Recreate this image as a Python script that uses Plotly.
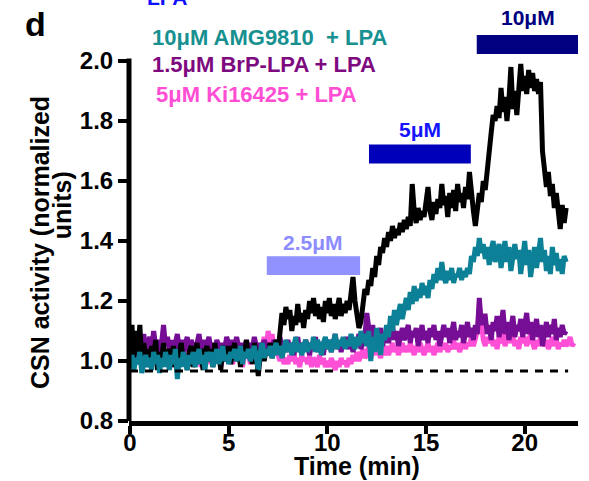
import plotly.graph_objects as go

# ---------------- data ----------------
time_step = 0.1  # min, sampling interval of the traces

lpa_ctrl = [
    1.05, 1.12, 1.00, 1.10, 1.03, 1.12, 0.99, 1.06, 1.01, 1.04,
    0.98, 1.05, 1.01, 1.07, 0.97, 1.03, 1.00, 1.06, 0.99, 1.02,
    1.04, 0.98, 1.05, 1.00, 0.96, 1.03, 1.06, 0.99, 1.02, 0.97,
    1.03, 1.05, 0.98, 1.02, 1.06, 0.99, 1.04, 0.97, 1.03, 1.05,
    1.00, 1.04, 0.98, 1.06, 1.01, 1.03, 0.97, 1.05, 1.02, 1.00,
    1.05, 0.99, 1.03, 1.06, 1.00, 1.04, 0.98, 1.05, 1.02, 1.07,
    1.01, 1.04, 0.99, 1.06, 1.03, 0.95, 1.02, 1.05, 1.00, 1.04,
    1.02, 1.06, 1.01, 1.04, 1.07, 1.03, 1.10, 1.16, 1.12, 1.18,
    1.14, 1.17, 1.10, 1.15, 1.12, 1.19, 1.13, 1.16, 1.11, 1.17,
    1.14, 1.20, 1.16, 1.21, 1.15, 1.19, 1.14, 1.18, 1.13, 1.20,
    1.16, 1.21, 1.15, 1.19, 1.14, 1.17, 1.21, 1.15, 1.19, 1.16,
    1.20, 1.17, 1.22, 1.28, 1.20, 1.14, 1.11, 1.13, 1.18, 1.24,
    1.22, 1.27, 1.25, 1.31, 1.28, 1.35, 1.32, 1.38, 1.36, 1.41,
    1.38, 1.43, 1.40, 1.45, 1.41, 1.44, 1.42, 1.46, 1.43, 1.47,
    1.44, 1.48, 1.45, 1.59, 1.50, 1.46, 1.51, 1.47, 1.50, 1.48,
    1.53, 1.58, 1.50, 1.47, 1.53, 1.49, 1.54, 1.51, 1.59, 1.52,
    1.55, 1.48, 1.56, 1.51, 1.57, 1.50, 1.59, 1.53, 1.56, 1.51,
    1.58, 1.54, 1.63, 1.55, 1.50, 1.45, 1.51, 1.56, 1.53, 1.60,
    1.57, 1.65, 1.70, 1.76, 1.82, 1.80, 1.85, 1.81, 1.91, 1.83,
    1.88, 1.80, 1.87, 1.98, 1.84, 1.90, 1.82, 1.89, 1.99, 1.90,
    1.95, 1.89, 1.97, 1.91, 1.96, 1.90, 1.94, 1.89, 1.93, 1.70,
    1.62, 1.58, 1.63, 1.55, 1.59, 1.51, 1.56, 1.49, 1.44, 1.52,
    1.46, 1.51,
]

amg9810 = [
    0.98, 1.02, 0.97, 1.01, 0.99, 1.03, 0.96, 1.00, 1.02, 0.98,
    1.01, 0.97, 1.03, 0.99, 1.02, 0.96, 1.01, 0.98, 1.03, 1.00,
    0.97, 1.02, 0.99, 1.04, 0.94, 1.01, 0.98, 1.03, 1.00, 0.97,
    1.02, 0.99, 1.03, 0.98, 1.01, 1.04, 0.99, 1.02, 0.97, 1.03,
    1.00, 1.03, 0.98, 1.02, 1.04, 0.99, 1.01, 1.05, 1.00, 1.02,
    0.99, 1.03, 1.01, 1.04, 1.00, 1.02, 1.05, 0.99, 1.03, 1.01,
    1.04, 1.00, 1.02, 1.05, 1.01, 0.97, 1.03, 1.06, 1.01, 1.04,
    1.02, 1.05, 1.01, 1.04, 1.06, 1.02, 1.05, 1.01, 1.04, 1.07,
    1.03, 1.06, 1.02, 1.05, 1.08, 1.03, 1.06, 1.02, 1.05, 1.07,
    1.03, 1.06, 1.04, 1.08, 1.03, 1.07, 1.05, 1.02, 1.06, 1.08,
    1.04, 1.07, 1.03, 1.06, 1.09, 1.04, 1.07, 1.05, 1.08, 1.04,
    1.07, 1.05, 1.09, 1.06, 1.04, 1.08, 1.05, 1.10, 1.06, 1.09,
    1.05, 1.10, 1.00, 1.08, 1.03, 1.11, 1.06, 1.02, 1.09, 1.07,
    1.12, 1.08, 1.15, 1.10, 1.17, 1.12, 1.16, 1.19, 1.14, 1.18,
    1.21, 1.17, 1.23, 1.19, 1.25, 1.20, 1.24, 1.21, 1.26, 1.22,
    1.25, 1.21, 1.27, 1.24, 1.29, 1.26, 1.31, 1.27, 1.33, 1.28,
    1.26, 1.30, 1.27, 1.31, 1.26, 1.29, 1.28, 1.31, 1.27, 1.30,
    1.28, 1.31, 1.29, 1.35, 1.33, 1.38, 1.35, 1.41, 1.36, 1.39,
    1.34, 1.38, 1.32, 1.37, 1.40, 1.33, 1.36, 1.39, 1.31, 1.37,
    1.40, 1.33, 1.38, 1.30, 1.36, 1.39, 1.34, 1.37, 1.29, 1.36,
    1.40, 1.32, 1.37, 1.28, 1.35, 1.38, 1.31, 1.36, 1.41, 1.33,
    1.37, 1.30, 1.35, 1.29, 1.38, 1.32, 1.36, 1.30, 1.34, 1.29,
    1.35, 1.33,
]

brp_lpa = [
    1.06, 1.03, 1.08, 1.05, 1.02, 1.07, 1.04, 1.09, 1.03, 1.06,
    1.08, 1.04, 1.10, 1.05, 1.07, 1.03, 1.06, 1.12, 1.05, 1.08,
    1.04, 1.07, 1.02, 1.06, 1.09, 1.04, 1.07, 1.03, 1.06, 1.08,
    1.03, 1.07, 1.05, 1.02, 1.06, 1.09, 1.04, 1.07, 1.03, 1.05,
    1.08, 1.04, 1.06, 1.03, 1.07, 1.05, 1.02, 1.06, 1.04, 1.08,
    1.05, 1.03, 1.07, 1.04, 1.08, 1.05, 1.02, 1.06, 1.04, 1.07,
    1.03, 1.06, 1.04, 1.08, 1.05, 1.02, 1.06, 1.04, 1.07, 1.05,
    1.02, 1.06, 1.04, 1.07, 1.03, 1.05, 1.08, 1.04, 1.06, 1.03,
    1.07, 1.04, 1.06, 1.02, 1.05, 1.08, 1.03, 1.06, 1.04, 1.07,
    1.05, 1.02, 1.06, 1.04, 1.08, 1.03, 1.06, 1.05, 1.02, 1.07,
    1.04, 1.07, 1.03, 1.06, 1.09, 1.04, 1.06, 1.03, 1.07, 1.05,
    1.08, 1.04, 1.06, 1.03, 1.07, 1.05, 1.09, 1.04, 1.06, 1.08,
    1.16, 1.10, 1.06, 1.12, 1.05, 1.09, 1.07, 1.11, 1.05, 1.08,
    1.10, 1.06, 1.09, 1.12, 1.07, 1.10, 1.05, 1.09, 1.11, 1.07,
    1.09, 1.12, 1.06, 1.10, 1.08, 1.11, 1.05, 1.09, 1.12, 1.07,
    1.10, 1.06, 1.11, 1.08, 1.12, 1.07, 1.10, 1.05, 1.09, 1.12,
    1.08, 1.11, 1.06, 1.10, 1.13, 1.07, 1.10, 1.08, 1.12, 1.06,
    1.10, 1.13, 1.08, 1.11, 1.07, 1.12, 1.09, 1.21, 1.12, 1.15,
    1.15, 1.09, 1.12, 1.07, 1.13, 1.10, 1.15, 1.08, 1.12, 1.17,
    1.09, 1.13, 1.07, 1.11, 1.15, 1.08, 1.12, 1.10, 1.14, 1.08,
    1.12, 1.16, 1.09, 1.13, 1.07, 1.11, 1.14, 1.08, 1.12, 1.05,
    1.10, 1.13, 1.08, 1.12, 1.09, 1.14, 1.07, 1.11, 1.08, 1.12,
    1.09, 1.10,
]

ki16425 = [
    1.01, 1.04, 0.99, 1.03, 1.00, 1.05, 0.98, 1.02, 1.04, 1.00,
    1.03, 0.99, 1.04, 1.01, 0.98, 1.03, 1.00, 1.04, 0.99, 1.02,
    1.00, 1.03, 0.98, 1.02, 1.05, 0.99, 1.03, 1.00, 1.04, 0.98,
    1.02, 1.04, 0.99, 1.03, 1.01, 1.05, 0.98, 1.02, 1.04, 1.00,
    1.03, 0.99, 1.02, 1.05, 1.00, 1.03, 0.98, 1.02, 1.04, 1.01,
    1.00, 1.03, 0.99, 1.02, 1.04, 1.00, 1.03, 0.98, 1.02, 1.01,
    1.03, 0.99, 1.02, 1.04, 1.00, 1.03, 1.01, 1.05, 1.08, 1.04,
    1.10, 1.06, 1.09, 1.04, 1.07, 1.02, 1.00, 1.03, 0.99, 1.01,
    0.99, 1.02, 1.00, 1.03, 0.99, 1.01, 0.98, 1.02, 1.00, 1.01,
    0.99, 1.02, 0.98, 1.01, 1.00, 0.98, 1.02, 0.99, 1.01, 0.98,
    1.00, 0.98, 1.01, 0.99, 0.97, 1.00, 0.98, 1.01, 0.99, 1.00,
    0.98, 1.01, 0.99, 1.02, 1.00, 1.03, 1.00, 1.02, 1.04, 1.01,
    1.02, 1.05, 1.01, 1.04, 1.02, 1.05, 1.03, 1.01, 1.04, 1.02,
    1.05, 1.02, 1.04, 1.06, 1.03, 1.05, 1.02, 1.04, 1.06, 1.03,
    1.05, 1.03, 1.06, 1.04, 1.02, 1.05, 1.03, 1.06, 1.04, 1.02,
    1.04, 1.06, 1.03, 1.05, 1.02, 1.04, 1.06, 1.03, 1.05, 1.04,
    1.06, 1.03, 1.05, 1.04, 1.07, 1.04, 1.06, 1.03, 1.05, 1.07,
    1.04, 1.06, 1.05, 1.08, 1.05, 1.07, 1.10, 1.19, 1.11, 1.07,
    1.05, 1.08, 1.06, 1.09, 1.05, 1.07, 1.04, 1.08, 1.06, 1.09,
    1.05, 1.07, 1.09, 1.06, 1.08, 1.05, 1.07, 1.04, 1.08, 1.06,
    1.08, 1.05, 1.07, 1.09, 1.06, 1.04, 1.07, 1.05, 1.08, 1.06,
    1.05, 1.07, 1.04, 1.06, 1.08, 1.05, 1.07, 1.04, 1.06, 1.05,
    1.07, 1.05, 1.06, 1.08, 1.05, 1.06,
]

series_names = ["5μM Ki16425 + LPA", "1.5μM BrP-LPA + LPA", "LPA", "10μM AMG9810  + LPA"]
series_values = [ki16425, brp_lpa, lpa_ctrl, amg9810]
series_colors = ["#ff4fd6", "#760d95", "#000000", "#0b8096"]

legend_labels = ["10μM AMG9810  + LPA", "1.5μM BrP-LPA + LPA", "5μM Ki16425 + LPA"]
legend_colors = ["#179090", "#7e0a80", "#ff4ed4"]

dose_labels = ["2.5μM", "5μM", "10μM"]
dose_start = [6.93, 12.11, 17.57]
dose_end = [11.66, 17.27, 22.72]
dose_colors = ["#9191ff", "#0000bb", "#000080"]
dose_text_colors = ["#8c8cff", "#1414ff", "#000080"]

baseline_level = 0.967
x_ticks = [0, 5, 10, 15, 20]
y_ticks = [0.8, 1.0, 1.2, 1.4, 1.6, 1.8, 2.0]

FONT = "Arial, 'Liberation Sans', Helvetica, sans-serif"

fig = go.Figure()
for name, vals, col in zip(series_names, series_values, series_colors):
    t = [round(i * time_step, 1) for i in range(len(vals))]
    fig.add_trace(go.Scatter(x=t, y=vals, mode="lines", name=name,
                             line=dict(color=col, width=5), showlegend=False,
                             hoverinfo="skip"))

# dashed reference line
fig.add_shape(type="line", xref="x", yref="y", x0=0, x1=22.2,
              y0=baseline_level, y1=baseline_level,
              line=dict(color="black", width=3, dash="8px,7px"), layer="above")

# y axis line (stops at 2.0)
fig.add_shape(type="line", xref="paper", yref="y", x0=0, x1=0,
              y0=y_ticks[0], y1=y_ticks[-1] + 0.008,
              line=dict(color="black", width=5), layer="above")

# dose bars and labels
bar_half = [0.0315, 0.0315, 0.0315]
bar_center = [1.318, 1.690, 2.055]
label_y = [1.395, 1.772, 2.145]
for lab, x0, x1, c, tc, yc, hb, ly in zip(dose_labels, dose_start, dose_end, dose_colors,
                                         dose_text_colors, bar_center, bar_half, label_y):
    fig.add_shape(type="rect", xref="x", yref="y", x0=x0, x1=x1, y0=yc - hb, y1=yc + hb,
                  fillcolor=c, line=dict(width=0), layer="above")
    fig.add_annotation(x=(x0 + x1) / 2, y=ly, xref="x", yref="y", text=lab, showarrow=False,
                       xanchor="center", yanchor="middle",
                       font=dict(family=FONT, size=21, color=tc, weight="bold"))

# legend-like coloured labels
leg_x = [1.01, 1.01, 1.22]
leg_y = [2.078, 1.988, 1.888]
for lab, c, lx, ly in zip(legend_labels, legend_colors, leg_x, leg_y):
    fig.add_annotation(x=lx, y=ly, xref="x", yref="y", text=lab, showarrow=False,
                       xanchor="left", yanchor="middle",
                       font=dict(family=FONT, size=22, color=c, weight="bold"))

# panel letter
fig.add_annotation(x=-0.209, y=0.945, xref="paper", yref="paper", text="d", showarrow=False,
                   xanchor="center", yanchor="middle",
                   font=dict(family=FONT, size=34, color="black", weight="bold"))
# cut-off title fragment at the very top (only its lower edge is visible in the reference)
fig.add_annotation(x=0.0846, y=1.009, xref="paper", yref="paper", text="LPA", showarrow=False,
                   xanchor="center", yanchor="middle",
                   font=dict(family=FONT, size=21, color="#1010ff", weight="bold"))

# axis titles
fig.add_annotation(x=-0.198, y=0.424, xref="paper", yref="paper",
                   text="CSN activity (normalized", textangle=-90, showarrow=False,
                   xanchor="center", yanchor="middle",
                   font=dict(family=FONT, size=25, color="black", weight="bold"))
fig.add_annotation(x=-0.149, y=0.514, xref="paper", yref="paper",
                   text="units)", textangle=-90, showarrow=False,
                   xanchor="center", yanchor="middle",
                   font=dict(family=FONT, size=25, color="black", weight="bold"))
fig.add_annotation(x=0.508, y=-0.106, xref="paper", yref="paper",
                   text="Time (min)", showarrow=False,
                   xanchor="center", yanchor="middle",
                   font=dict(family=FONT, size=25, color="black", weight="bold"))

fig.update_layout(
    width=589, height=481,
    margin=dict(l=129, r=11, t=1, b=60),
    paper_bgcolor="white", plot_bgcolor="white",
    showlegend=False,
    xaxis=dict(range=[-0.05, 22.7], tickvals=x_ticks, ticks="outside", ticklen=8, tickwidth=4,
               tickcolor="black", showline=True, linewidth=5, linecolor="black",
               showgrid=False, zeroline=False, ticklabelstandoff=-12,
               tickfont=dict(family=FONT, size=24, color="black", weight="bold")),
    yaxis=dict(range=[0.8, 2.2], tickvals=y_ticks, tickformat=".1f", ticks="outside",
               ticklen=10, tickwidth=4, tickcolor="black", showline=False,
               showgrid=False, zeroline=False,
               tickfont=dict(family=FONT, size=24, color="black", weight="bold")),
)

fig.write_html("out.html")
